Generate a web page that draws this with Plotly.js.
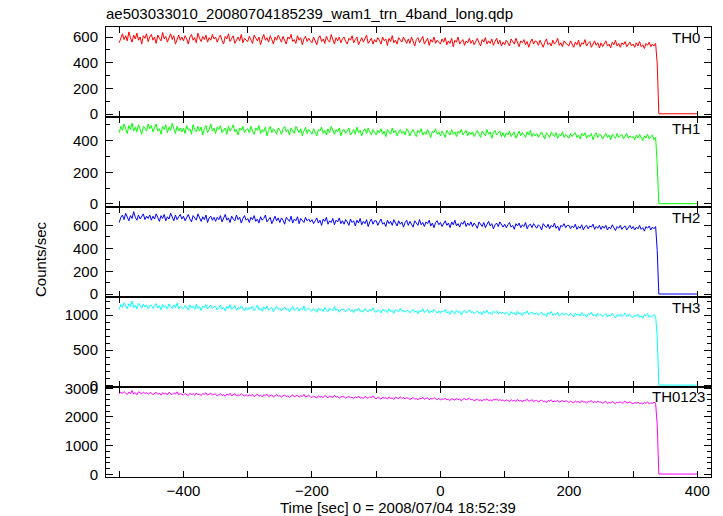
<!DOCTYPE html>
<html>
<head>
<meta charset="utf-8">
<script src="https://cdn.plot.ly/plotly-3.0.1.min.js"></script>
<style>html,body{margin:0;padding:0;background:#fff;}#chart{width:723px;height:516px;}</style>
</head>
<body>
<div id="chart"></div>
<script>
// ---- data (2.5 s bins from -500 s, then the drop) ----
var binStart = -500;
var binWidth = 2.5;
var tailTimes = [337.5, 340, 400];

var th0 = [
 555,600,625,580,610,570,640,595,560,615,585,630,575,600,545,610,590,625,565,600,
 620,575,600,550,615,590,570,635,585,605,560,595,625,580,610,545,590,615,575,600,
 570,610,585,545,600,620,575,595,555,630,590,565,605,580,615,560,595,575,620,585,
 600,560,590,615,575,545,605,585,625,565,590,610,550,580,600,570,620,555,590,575,
 565,605,580,550,615,590,570,600,540,585,620,575,595,560,610,580,545,600,575,615,
 590,560,605,575,545,600,585,620,565,580,550,610,575,595,540,585,605,565,590,570,
 555,600,575,540,590,610,565,585,550,605,575,560,620,580,545,595,570,600,555,585,
 600,565,545,590,575,610,555,580,600,540,570,595,560,585,615,550,575,590,545,580,
 560,595,575,545,600,570,585,535,590,565,610,555,575,545,595,580,560,600,570,550,
 585,550,600,565,530,580,595,555,575,605,545,570,590,535,580,560,600,550,575,560,
 545,585,560,595,540,570,550,590,525,575,560,600,545,565,580,535,570,555,590,550,
 575,540,565,590,555,530,580,560,595,545,570,550,585,535,565,590,545,575,530,560,
 540,575,555,530,585,560,545,590,550,525,570,555,580,540,565,520,560,585,545,570,
 565,535,575,550,520,560,585,540,555,530,575,545,560,590,535,555,525,570,550,540,
 530,570,545,520,560,540,575,525,555,545,580,530,550,565,520,545,570,535,555,515,
 555,525,550,570,530,545,515,560,540,575,530,550,520,555,540,565,525,545,560,530,
 545,520,555,530,565,525,540,510,550,535,560,525,545,530,550];
var th0Tail = [390, 2, 2];

var th1 = [
 450,490,465,505,475,445,495,470,510,460,485,455,500,470,440,490,480,460,505,475,
 495,455,480,505,460,475,440,490,470,500,450,485,465,510,475,445,490,460,480,455,
 480,445,495,465,475,440,500,470,455,490,460,485,435,475,495,450,470,505,460,480,
 445,485,470,495,450,465,480,440,490,460,475,500,455,470,435,480,465,490,450,470,
 475,450,490,460,440,480,465,495,445,470,455,485,430,465,490,450,475,460,440,480,
 465,440,475,490,455,470,435,480,460,445,490,465,450,475,430,460,485,445,470,455,
 440,475,455,430,470,460,485,445,465,435,475,450,490,460,440,470,455,480,430,465,
 470,445,460,480,435,455,470,440,485,450,465,430,460,475,445,480,455,435,470,450,
 435,465,450,475,440,460,425,470,455,440,480,450,465,430,455,470,445,460,435,475,
 460,430,455,470,445,425,465,450,475,435,455,440,470,445,420,460,450,475,440,455,
 430,460,445,420,465,450,435,470,440,455,425,460,445,470,435,450,465,430,455,440,
 455,425,450,465,440,420,460,445,430,470,440,455,415,450,465,435,445,460,425,450,
 420,450,435,460,425,445,455,415,440,460,430,450,440,420,455,435,465,425,445,430,
 445,420,440,455,430,410,450,435,420,455,440,425,450,415,440,430,455,420,440,430,
 415,445,425,440,450,420,435,410,445,430,450,415,435,425,445,405,435,450,420,440,
 435,410,430,445,420,435,405,440,425,415,445,420,430,440,410,425,445,415,430,420,
 425,405,435,415,440,420,400,430,415,440,410,425,435,405,420];
var th1Tail = [250, 2, 2];

var th2 = [
 625,670,690,650,705,665,640,685,660,720,670,645,690,655,675,700,650,680,660,690,
 645,680,655,700,670,635,685,660,695,640,675,655,705,665,640,690,650,675,695,655,
 680,640,670,695,655,630,685,660,645,700,665,635,675,650,690,625,665,680,645,670,
 635,670,650,685,630,660,695,645,665,625,680,655,640,690,650,670,620,660,685,645,
 660,625,670,650,685,635,655,620,675,645,660,690,630,650,670,615,655,680,640,665,
 625,665,645,610,670,650,635,680,620,655,640,675,615,660,645,625,670,640,655,630,
 650,615,640,665,620,645,600,655,635,670,610,640,625,660,605,645,630,665,615,640,
 610,650,630,600,655,625,640,595,645,620,660,605,635,615,650,590,630,655,610,640,
 640,600,630,655,610,625,590,645,615,635,600,650,620,595,640,610,630,585,625,645,
 600,635,610,585,640,620,600,650,605,625,590,630,615,645,595,620,580,625,640,605,
 625,590,615,640,600,620,580,630,605,645,595,615,585,625,610,640,590,620,600,630,
 590,620,600,575,630,605,590,625,580,610,635,595,615,570,605,620,590,630,600,585,
 610,580,605,625,585,600,565,615,595,620,580,605,590,625,570,600,610,580,615,595,
 575,605,590,560,615,595,580,610,570,600,585,620,575,595,555,600,590,615,580,600,
 600,570,595,580,610,565,590,575,605,560,590,600,570,595,585,610,565,590,575,600,
 565,595,575,600,560,585,570,605,580,555,590,575,600,565,585,595,560,580,600,570,
 590,560,585,570,600,565,580,550,590,575,595,560,585,570,590];
var th2Tail = [380, 2, 2];

var th3 = [
 1080,1150,1110,1175,1130,1090,1160,1120,1200,1105,1140,1085,1170,1125,1100,1155,1115,1145,1090,1135,
 1140,1095,1125,1165,1100,1135,1075,1150,1110,1130,1085,1160,1120,1095,1145,1105,1170,1090,1125,1110,
 1090,1135,1110,1070,1145,1100,1125,1080,1155,1095,1120,1065,1130,1105,1150,1085,1115,1140,1095,1120,
 1120,1075,1105,1140,1085,1110,1060,1125,1090,1150,1080,1100,1135,1070,1105,1085,1130,1095,1060,1110,
 1070,1110,1090,1125,1060,1095,1140,1075,1100,1055,1115,1085,1130,1065,1095,1110,1050,1090,1120,1080,
 1100,1060,1085,1115,1070,1095,1045,1090,1120,1065,1080,1105,1055,1095,1075,1130,1060,1085,1100,1070,
 1055,1090,1075,1040,1100,1065,1085,1050,1110,1070,1045,1095,1080,1060,1120,1065,1090,1040,1075,1085,
 1080,1045,1070,1095,1055,1075,1035,1085,1060,1100,1050,1070,1040,1090,1065,1045,1080,1060,1105,1050,
 1040,1075,1060,1030,1085,1055,1070,1035,1090,1050,1065,1025,1080,1060,1045,1095,1050,1070,1040,1065,
 1065,1030,1055,1080,1040,1060,1020,1070,1045,1090,1035,1055,1075,1025,1060,1040,1080,1050,1030,1060,
 1025,1060,1045,1075,1030,1050,1010,1065,1040,1020,1070,1035,1055,1000,1050,1065,1030,1045,1075,1035,
 1050,1015,1040,1060,1025,1045,1005,1055,1030,1070,1020,1040,1010,1055,1035,1060,1015,1045,1025,1040,
 1010,1045,1025,995,1050,1020,1035,1000,1055,1015,1030,990,1040,1020,1060,1005,1030,1045,1010,1025,
 1030,995,1020,1045,1000,1015,980,1035,1010,1050,995,1020,1005,1040,985,1015,1030,1000,1025,1010,
 990,1025,1005,975,1030,1000,1015,985,1035,995,1010,970,1020,1005,1040,990,1010,980,1025,1000,
 1010,980,995,1020,970,1000,985,1025,990,960,1005,985,1015,975,1000,1030,980,995,1010,975,
 965,1000,980,1015,970,990,955,1005,985,1020,965,990,975,1005,980];
var th3Tail = [690, 3, 3];

var th0123 = [
 2790,2860,2820,2885,2835,2780,2870,2810,2920,2800,2850,2775,2880,2830,2805,2865,2820,2850,2790,2845,
 2840,2775,2820,2860,2790,2830,2760,2850,2800,2835,2770,2865,2810,2785,2845,2795,2875,2780,2820,2800,
 2760,2820,2790,2745,2830,2780,2810,2755,2840,2775,2800,2740,2815,2790,2845,2760,2795,2825,2770,2800,
 2790,2735,2770,2815,2745,2780,2720,2795,2755,2830,2740,2770,2810,2730,2775,2750,2805,2760,2725,2785,
 2720,2770,2745,2790,2705,2755,2800,2725,2760,2700,2775,2740,2795,2715,2750,2770,2695,2745,2785,2730,
 2750,2695,2725,2770,2705,2740,2675,2735,2775,2700,2720,2760,2690,2745,2715,2785,2695,2730,2755,2705,
 2680,2725,2700,2660,2740,2690,2715,2670,2750,2695,2665,2730,2705,2680,2755,2690,2720,2655,2700,2715,
 2700,2655,2685,2720,2660,2690,2640,2705,2670,2730,2655,2685,2645,2715,2680,2650,2710,2670,2735,2660,
 2635,2680,2660,2620,2695,2650,2675,2625,2700,2645,2665,2610,2690,2655,2635,2705,2645,2670,2630,2665,
 2655,2610,2640,2675,2620,2645,2595,2660,2630,2690,2615,2640,2670,2600,2650,2620,2680,2635,2605,2650,
 2590,2635,2615,2660,2595,2620,2570,2640,2610,2585,2650,2600,2630,2560,2620,2645,2595,2615,2655,2600,
 2610,2565,2595,2625,2575,2600,2550,2615,2585,2640,2570,2595,2555,2620,2590,2630,2565,2605,2575,2595,
 2550,2595,2570,2530,2605,2560,2585,2540,2610,2555,2580,2525,2590,2565,2620,2545,2575,2600,2550,2570,
 2570,2525,2550,2590,2530,2555,2505,2575,2545,2600,2525,2555,2535,2585,2515,2550,2575,2530,2565,2545,
 2505,2550,2525,2490,2560,2515,2540,2495,2565,2520,2535,2480,2550,2525,2575,2500,2530,2510,2555,2520,
 2525,2480,2510,2545,2470,2505,2490,2540,2500,2460,2520,2495,2535,2475,2510,2550,2485,2505,2525,2480,
 2460,2505,2480,2520,2455,2490,2445,2510,2475,2530,2450,2495,2470,2515,2480];
var th0123Tail = [1710, 8, 8];

var bandNames = ["TH0", "TH1", "TH2", "TH3", "TH0123"];
var bandColors = ["#ff0000", "#00ff00", "#0000ff", "#00ffff", "#ff00ff"];
var xTickVals = [-500, -400, -300, -200, -100, 0, 100, 200, 300, 400];
var xTickText = ["", "\u2212400", "", "\u2212200", "", "0", "", "200", "", "400"];
var titleText = "ae503033010_20080704185239_wam1_trn_4band_long.qdp";
var xTitleText = "Time [sec] 0 = 2008/07/04 18:52:39";
var yTitleText = "Counts/sec";

(function () {
  var bands = [[th0, th0Tail], [th1, th1Tail], [th2, th2Tail], [th3, th3Tail], [th0123, th0123Tail]];

  var yRanges = [[-23, 678], [-19, 549], [-24, 760], [-24, 1257], [-95, 3045]];
  var yDticks = [200, 200, 200, 500, 1000];
  var yMinor = [100, 100, 100, 100, 200];
  var labelRight = [702, 702, 702, 702, 707];
  var labelOffset = [10, 11, 11, 10, 9];

  var FONT = "Liberation Sans, Arial, Helvetica, sans-serif";
  var W = 723, H = 516;
  var mL = 106, mR = 12, mT = 27, mB = 39;
  var plotW = W - mL - mR, plotH = H - mT - mB;

  var traces = [];
  var layout = {
    width: W, height: H,
    margin: {l: mL, r: mR, t: mT, b: mB, pad: 0},
    paper_bgcolor: "#fff", plot_bgcolor: "rgba(0,0,0,0)",
    showlegend: false,
    font: {family: FONT, size: 15, color: "#000"},
    title: {text: titleText, x: mL / W, xref: "container", xanchor: "left", y: 1 - 14 / H, yref: "container", yanchor: "middle", font: {family: FONT, size: 15, color: "#000"}},
    annotations: []
  };

  for (var k = 0; k < 5; k++) {
    var sfx = k === 0 ? "" : String(k + 1);
    var vals = bands[k][0], tail = bands[k][1];
    var xs = [];
    for (var i = 0; i < vals.length; i++) xs.push(binStart + i * binWidth);
    traces.push({
      x: xs.concat(tailTimes), y: vals.concat(tail), type: "scatter", mode: "lines",
      xaxis: "x" + sfx, yaxis: "y" + sfx,
      line: {color: bandColors[k], width: 1}, hoverinfo: "skip"
    });
    var dTop = Math.round((1 - k * 0.2) * 1000) / 1000;
    var dBot = Math.round((1 - (k + 1) * 0.2) * 1000) / 1000;
    var xa = {
      domain: [0, 1], anchor: "y" + sfx, range: [-520.6, 421.2],
      tickmode: "array", tickvals: xTickVals, ticktext: xTickText,
      ticks: "inside", ticklen: 6, tickwidth: 1, tickcolor: "#000",
      showticklabels: k === 4, mirror: "allticks", showline: true, linecolor: "#000", linewidth: 1,
      showgrid: false, zeroline: false, tickfont: {size: 15, family: FONT}
    };
    if (k > 0) xa.matches = "x";
    layout["xaxis" + sfx] = xa;
    layout["yaxis" + sfx] = {
      domain: [dBot, dTop], anchor: "x" + sfx, range: yRanges[k],
      dtick: yDticks[k], tick0: 0,
      ticks: "inside", ticklen: 7, tickwidth: 1, tickcolor: "#000",
      minor: {dtick: yMinor[k], tick0: 0, ticks: "inside", ticklen: 4, tickcolor: "#000", tickwidth: 1},
      mirror: "allticks", showline: true, linecolor: "#000", linewidth: 1,
      showgrid: false, zeroline: false, tickfont: {size: 15, family: FONT},
      ticklabelstandoff: 4
    };
    var panelTopPx = mT + k * plotH / 5;
    layout.annotations.push({
      text: bandNames[k], xref: "paper", yref: "paper",
      x: (labelRight[k] - mL) / plotW, xanchor: "right",
      y: 1 - (panelTopPx + labelOffset[k] - mT) / plotH, yanchor: "middle",
      showarrow: false, font: {size: 15, family: FONT, color: "#000"}
    });
  }
  layout.annotations.push({
    text: xTitleText, xref: "paper", yref: "paper",
    x: (398 - mL) / plotW, xanchor: "center",
    y: 1 - (507 - mT) / plotH, yanchor: "middle",
    showarrow: false, font: {size: 15, family: FONT, color: "#000"}
  });
  layout.annotations.push({
    text: yTitleText, xref: "paper", yref: "paper",
    x: (40 - mL) / plotW, xanchor: "center",
    y: 1 - (259 - mT) / plotH, yanchor: "middle", textangle: -90,
    showarrow: false, font: {size: 15, family: FONT, color: "#000"}
  });

  Plotly.newPlot("chart", traces, layout, {displayModeBar: false, staticPlot: true});
})();
</script>
</body>
</html>
